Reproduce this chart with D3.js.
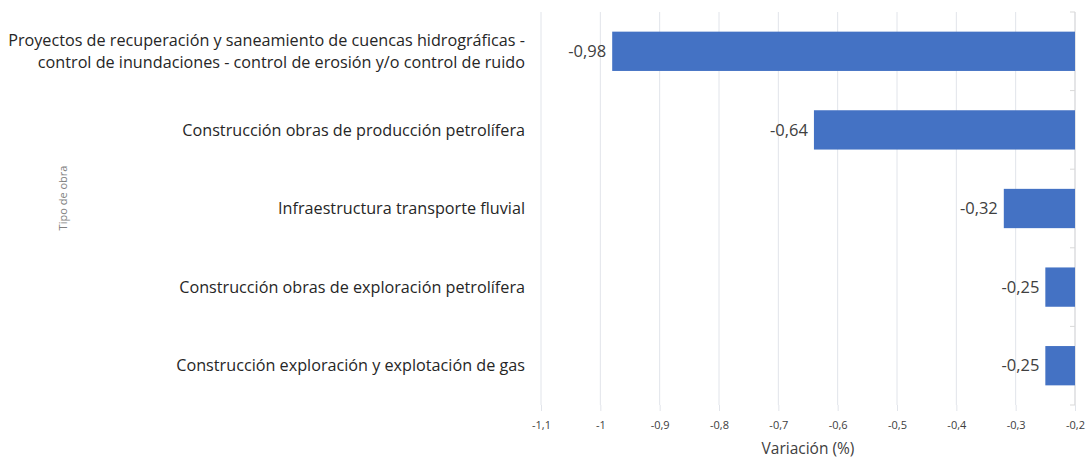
<!DOCTYPE html>
<html>
<head>
<meta charset="utf-8">
<script src="https://cdn.jsdelivr.net/npm/d3@7"></script>
<style>
  body { margin: 0; background: #fff; }
  svg text { font-family: "Open Sans", "Noto Sans", sans-serif; }
</style>
</head>
<body>
<svg></svg>
<script>
var categories = [
  ["Proyectos de recuperación y saneamiento de cuencas hidrográficas -", "control de inundaciones - control de erosión y/o control de ruido"],
  ["Construcción obras de producción petrolífera"],
  ["Infraestructura transporte fluvial"],
  ["Construcción obras de exploración petrolífera"],
  ["Construcción exploración y explotación de gas"]
];
var values = [-0.98, -0.64, -0.32, -0.25, -0.25];
var valueLabels = ["-0,98", "-0,64", "-0,32", "-0,25", "-0,25"];
var ticks = [-1.1, -1, -0.9, -0.8, -0.7, -0.6, -0.5, -0.4, -0.3, -0.2];

var width = 1087, height = 459;
var svg = d3.select('svg').attr('width', width).attr('height', height);

var padding = { top: 12, bottom: 54, left: 541, right: 12 };

var xScale = d3.scaleLinear()
  .domain([-1.1, -0.2])
  .range([padding.left, width - padding.right]);

var yScale = d3.scaleBand()
  .domain(d3.range(values.length))
  .range([padding.top, height - padding.bottom])
  .paddingInner(0.5)
  .paddingOuter(0.25);

// gridlines
svg.append('g')
  .selectAll('line')
  .data(ticks)
  .enter()
  .append('line')
  .attr('x1', d => xScale(d))
  .attr('x2', d => xScale(d))
  .attr('y1', padding.top)
  .attr('y2', height - padding.bottom)
  .attr('stroke', '#e1e4ea')
  .attr('stroke-width', 1);

// x-axis
var xAxis = svg.append('g')
  .attr('transform', 'translate(0,' + (height - padding.bottom) + ')')
  .call(d3.axisBottom(xScale).tickValues(ticks).tickSize(6).tickPadding(10)
    .tickFormat(d => d3.format('')(+d.toFixed(1)).replace('.', ',').replace('−', '-')));
xAxis.select('.domain').remove();
xAxis.selectAll('line').attr('stroke', '#e1e4ea');
xAxis.selectAll('text').attr('fill', '#404040').style('font-size', '11px');

// right category axis with ticks at band edges
var x0 = xScale(-0.2);
svg.append('line')
  .attr('x1', x0).attr('x2', x0)
  .attr('y1', padding.top).attr('y2', height - padding.bottom)
  .attr('stroke', '#d9d9d9');
svg.selectAll('line.ytick')
  .data(d3.range(values.length + 1))
  .enter()
  .append('line')
  .attr('class', 'ytick')
  .attr('x1', x0 - 5).attr('x2', x0)
  .attr('y1', i => padding.top + i * (height - padding.bottom - padding.top) / values.length)
  .attr('y2', i => padding.top + i * (height - padding.bottom - padding.top) / values.length)
  .attr('stroke', '#d9d9d9');

// bars
svg.selectAll('rect.bar')
  .data(values)
  .enter()
  .append('rect')
  .attr('class', 'bar')
  .attr('x', d => xScale(d))
  .attr('y', (d, i) => yScale(i))
  .attr('width', d => x0 - xScale(d))
  .attr('height', yScale.bandwidth())
  .attr('fill', '#4472c4');

// value labels
svg.selectAll('text.val')
  .data(values)
  .enter()
  .append('text')
  .attr('class', 'val')
  .attr('x', d => xScale(d) - 6)
  .attr('y', (d, i) => yScale(i) + yScale.bandwidth() / 2)
  .attr('dy', '0.35em')
  .attr('text-anchor', 'end')
  .attr('fill', '#404040')
  .style('font-size', '16.5px')
  .text((d, i) => valueLabels[i]);

// category labels
var catG = svg.selectAll('text.cat')
  .data(categories)
  .enter()
  .append('text')
  .attr('class', 'cat')
  .attr('text-anchor', 'end')
  .attr('fill', '#262626')
  .style('font-size', '16.2px');
catG.each(function(lines, i) {
  var cy = yScale(i) + yScale.bandwidth() / 2;
  var lh = 22;
  var start = cy - (lines.length - 1) * lh / 2;
  d3.select(this).selectAll('tspan')
    .data(lines)
    .enter()
    .append('tspan')
    .attr('x', 525)
    .attr('y', (l, j) => start + j * lh)
    .attr('dy', '0.35em')
    .text(l => l);
});

// axis titles
svg.append('text')
  .attr('x', (xScale(-1.1) + xScale(-0.2)) / 2)
  .attr('y', 449)
  .attr('dy', '0.35em')
  .attr('text-anchor', 'middle')
  .attr('fill', '#404040')
  .style('font-size', '15.5px')
  .text('Variación (%)');

svg.append('text')
  .attr('transform', 'translate(63,198) rotate(-90)')
  .attr('dy', '0.35em')
  .attr('text-anchor', 'middle')
  .attr('fill', '#808080')
  .style('font-size', '11px')
  .text('Tipo de obra');
</script>
</body>
</html>
